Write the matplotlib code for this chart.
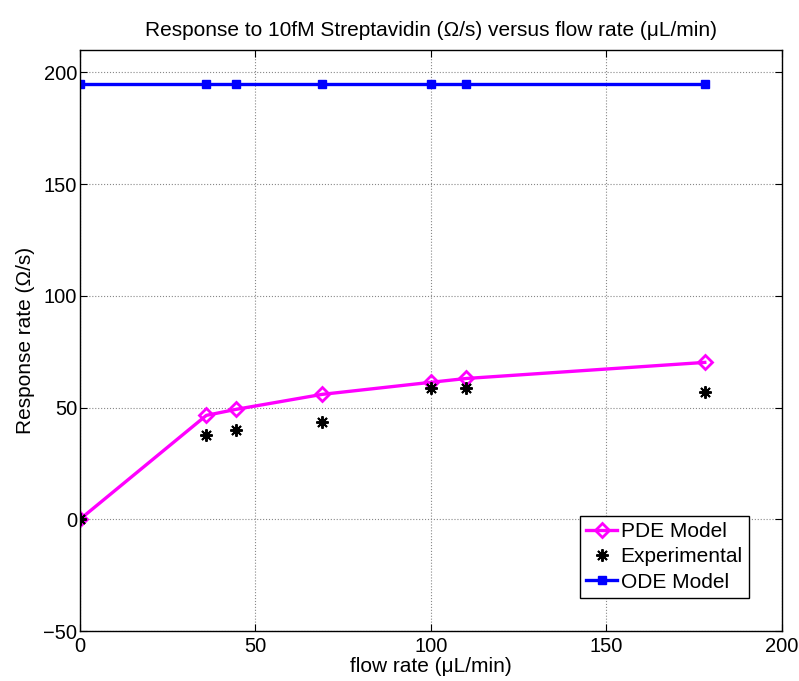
import matplotlib
matplotlib.use("Agg")
import matplotlib.pyplot as plt

plt.rcParams['font.family'] = ['Liberation Sans', 'DejaVu Sans']

# flow rates (uL/min)
flow = [0, 36, 44.5, 69, 100, 110, 178]
pde_model = [0, 46.5, 49.2, 55.9, 61.3, 63.0, 70.2]
experimental = [0, 37.6, 39.8, 43.4, 58.6, 58.6, 56.8]
ode_model = [195, 195, 195, 195, 195, 195, 195]

fig = plt.figure(figsize=(7.99, 6.81), dpi=100)
ax = fig.add_axes([0.1001, 0.0734, 0.8786, 0.8532])

ax.plot(flow, pde_model, color='#ff00ff', lw=2.4, marker='D', ms=7.5,
        mfc='none', mec='#ff00ff', mew=2, label='PDE Model')
ax.plot(flow, experimental, ls='none', marker=(8, 2, 0), ms=9, mew=1.4,
        color='black', label='Experimental')
ax.plot(flow, ode_model, color='#0000ff', lw=2.4, marker='s', ms=6,
        mfc='#0000ff', label='ODE Model')

ax.set_xlim(0, 200)
ax.set_ylim(-50, 210)
ax.set_xticks([0, 50, 100, 150, 200])
ax.set_yticks([-50, 0, 50, 100, 150, 200])
ax.set_yticklabels(['\u221250', '0', '50', '100', '150', '200'])
ax.tick_params(direction='in', top=True, right=True, labelsize=14.5, length=5)
ax.tick_params(axis='x', pad=4)
ax.tick_params(axis='y', pad=2)
ax.grid(True, ls=':', color='#888888', lw=0.8)
for s in ax.spines.values():
    s.set_linewidth(1.0)

ax.set_title('Response to 10fM Streptavidin (\u03a9/s) versus flow rate (\u03bcL/min)',
             fontsize=15, pad=10)
ax.set_xlabel('flow rate (\u03bcL/min)', fontsize=15, labelpad=1)
ax.set_ylabel('Response rate (\u03a9/s)', fontsize=15, labelpad=6)

leg = ax.legend(loc='lower right', bbox_to_anchor=(0.953, 0.057), fontsize=15,
                fancybox=False, edgecolor='black', framealpha=1,
                handlelength=1.5, handletextpad=0.15, borderpad=0.3,
                labelspacing=0.3, borderaxespad=0)
leg.get_frame().set_linewidth(1.0)

fig.savefig('out.png', dpi=100)
